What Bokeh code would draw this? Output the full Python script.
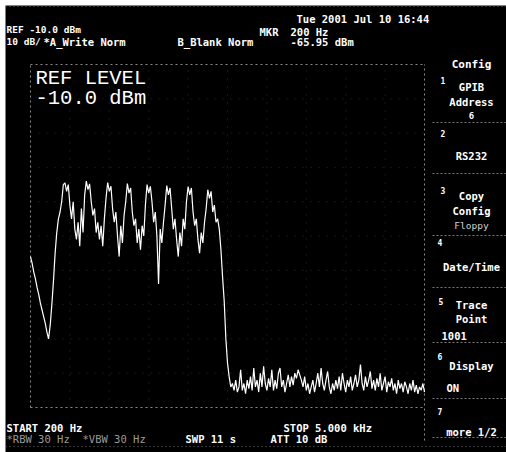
import numpy as np
from bokeh.plotting import figure
from bokeh.models import Range1d, Label
from bokeh.embed import file_html
from bokeh.resources import INLINE

# ---------------- instrument settings ----------------
START_HZ = 200
STOP_HZ = 5000
REF_DBM = -10.0
DB_PER_DIV = 10
N_DIV = 10

# ---------------- trace values (dBm) ----------------
level_skirt = [-66, -68, -70.5, -72.5, -75, -77, -79.5, -81.5, -83.5, -85.5, -88, -90]
level_rise = [-86, -80, -73, -65, -59, -55, -53, -50, -45]
level_band = [
    -44.5, -47, -45, -51, -55, -50, -58, -61, -56, -63, -52, -59, -48,
    -44, -46.5, -44.8, -50, -54, -52, -59, -56, -61, -57, -63, -55, -49,
    -44.4, -47, -45.5, -52, -56, -53, -60, -66, -57, -62, -54, -50,
    -44.7, -47.5, -46, -53, -57, -55, -62, -58, -64, -57, -60, -51,
    -45, -47.5, -45.5, -50, -56, -53, -60, -74, -58, -62, -56, -51,
    -45.3, -48, -46, -52, -58, -55, -61, -66, -59, -63, -55, -58, -50,
    -45.6, -48, -46, -53, -57, -55, -61, -65, -59, -62, -56, -52,
    -46.5, -49, -47, -53, -51, -56, -55, -58, -64,
]
level_drop = [-72, -79, -90, -97, -101, -104]
level_floor = [
    -103, -105, -102, -105.5, -104, -99, -105, -103, -106, -102,
    -104.5, -101, -105, -98.5, -104, -102, -105.5, -100, -104, -98,
    -103, -105, -101.5, -104, -99, -105, -102, -104.5, -100, -98.5,
    -104, -102, -105.5, -103, -100.5, -104, -101, -103.5, -100, -101.5,
    -99, -100.5, -102, -104, -101, -105, -103, -106, -104, -102,
    -105.5, -103, -100, -104, -98.5, -103, -105, -102, -99.5, -104,
    -106, -103, -105, -102, -104.5, -101, -105, -100, -103, -105.5,
    -102, -104, -101, -105, -103, -100.5, -104, -102, -97.5, -103,
    -105, -101, -104, -102, -99.5, -104.5, -102, -105, -101.5, -104,
    -100, -105, -103, -101, -105.5, -102.5, -104, -101.5, -105, -103,
    -106, -102, -104.5, -103, -105.5, -102.5, -104, -106, -103, -105,
    -102, -105.5, -103.5, -106, -104, -105, -103, -105.5,
]
level_dbm = level_skirt + level_rise + level_band + level_drop + level_floor
freq_hz = np.linspace(START_HZ, STOP_HZ, len(level_dbm))

# ---------------- screen geometry ----------------
W, H = 506, 452
OFF = 5                                     # white strip at top / left
FW, FH = W - OFF, H - OFF                   # frame size
GL, GR, GT, GB = 30 - OFF, 424 - OFF, 64 - OFF, 407 - OFF   # graticule in frame px
hz_per_px = (STOP_HZ - START_HZ) / (GR - GL)
db_per_px = DB_PER_DIV * N_DIV / (GB - GT)
x0 = START_HZ - GL * hz_per_px
x1 = STOP_HZ + (FW - GR) * hz_per_px
y1 = REF_DBM + GT * db_per_px
y0 = REF_DBM - DB_PER_DIV * N_DIV - (FH - GB) * db_per_px


def fx(ix):
    return x0 + (ix - OFF) * hz_per_px


def fy(iy):
    return y1 - (iy - OFF) * db_per_px


p = figure(width=W, height=H, x_range=Range1d(x0, x1), y_range=Range1d(y0, y1),
           output_backend="svg", toolbar_location=None,
           x_axis_location=None, y_axis_location=None,
           min_border_left=OFF, min_border_top=OFF, min_border_right=0, min_border_bottom=0,
           background_fill_color="black", border_fill_color="white",
           outline_line_color=None)
p.grid.visible = False

# graticule
div_hz = (STOP_HZ - START_HZ) / N_DIV
vx = [START_HZ + k * div_hz for k in range(N_DIV + 1)]
hy = [REF_DBM - k * DB_PER_DIV for k in range(N_DIV + 1)]
bottom = REF_DBM - DB_PER_DIV * N_DIV
inner_v = vx[1:-1]
inner_h = hy[1:-1]
p.segment(x0=inner_v, y0=[bottom] * len(inner_v), x1=inner_v, y1=[REF_DBM] * len(inner_v),
          line_color="#2c2c2c", line_width=1, line_dash="1 7")
p.segment(x0=[START_HZ] * len(inner_h), y0=inner_h, x1=[STOP_HZ] * len(inner_h), y1=inner_h,
          line_color="#2c2c2c", line_width=1, line_dash="1 7")
p.segment(x0=[START_HZ, STOP_HZ, START_HZ, START_HZ], y0=[bottom, fy(440), REF_DBM, bottom],
          x1=[START_HZ, STOP_HZ, STOP_HZ, STOP_HZ], y1=[REF_DBM, REF_DBM, REF_DBM, bottom],
          line_color="#8a8a8a", line_width=1, line_dash="2 3")

# softkey separators
sep_y = [122, 173, 235, 287, 342, 398, 437]
p.segment(x0=[fx(432)] * len(sep_y), y0=[fy(v) for v in sep_y],
          x1=[fx(506)] * len(sep_y), y1=[fy(v) for v in sep_y],
          line_color="#7a7a7a", line_width=1, line_dash="2 2")
# dithered rows at the very top and bottom of the screen
p.segment(x0=[fx(5), fx(5)], y0=[fy(6), fy(446)], x1=[fx(506), fx(506)], y1=[fy(6), fy(446)],
          line_color="#6a6a6a", line_width=1, line_dash="1 3")

# trace
p.line(freq_hz, level_dbm, line_color="white", line_width=1.2)

MONO = "DejaVu Sans Mono"


def lbl(text, ix, iy, size=10.5, color="white", align="left", font=MONO, style="bold"):
    p.add_layout(Label(x=fx(ix), y=fy(iy), text=text, text_color=color,
                       text_font=font, text_font_size=f"{size}px",
                       text_font_style=style, text_align=align,
                       text_baseline="alphabetic"))


# header
lbl("REF -10.0 dBm", 6, 29, size=9.5)
lbl("10 dB/", 6, 41, size=9.5)
lbl("*A_Write Norm", 43, 41)
lbl("B_Blank Norm", 177, 41)
lbl("Tue 2001 Jul 10 16:44", 296, 18)
lbl("MKR", 259, 31)
lbl("200 Hz", 290, 31)
lbl("-65.95 dBm", 290, 41)
lbl("REF LEVEL", 35, 78, size=20.5, font="Liberation Mono", style="normal")
lbl("-10.0 dBm", 35, 98, size=20.5, font="Liberation Mono", style="normal")

# softkeys
CX = 471
lbl("Config", CX, 64, align="center", size=11)
lbl("1", 440, 80, size=8)
lbl("GPIB", CX, 86, align="center")
lbl("Address", CX, 101, align="center")
lbl("6", CX, 115, align="center", size=9)
lbl("2", 440, 133, size=8)
lbl("RS232", CX, 155, align="center")
lbl("3", 440, 190, size=8)
lbl("Copy", CX, 195, align="center")
lbl("Config", CX, 210, align="center")
lbl("Floppy", CX, 225, align="center", size=9.5, color="#d0d0d0", style="normal")
lbl("4", 437, 242, size=8)
lbl("Date/Time", CX, 266, align="center")
lbl("5", 438, 301, size=8)
lbl("Trace", CX, 304, align="center")
lbl("Point", CX, 318, align="center")
lbl("1001", 441, 335)
lbl("6", 437, 356, size=8)
lbl("Display", CX, 365, align="center")
lbl("ON", 446, 387)
lbl("7", 437, 411, size=8)
lbl("more 1/2", CX, 431, align="center")

# footer
lbl("START 200 Hz", 6, 427)
lbl("*RBW 30 Hz", 6, 438, color="#9a9a9a", style="normal")
lbl("*VBW 30 Hz", 82, 438, color="#9a9a9a", style="normal")
lbl("SWP 11 s", 185, 438)
lbl("STOP 5.000 kHz", 283, 427)
lbl("ATT 10 dB", 270, 438)

open("out.html", "w").write(file_html(p, INLINE))
